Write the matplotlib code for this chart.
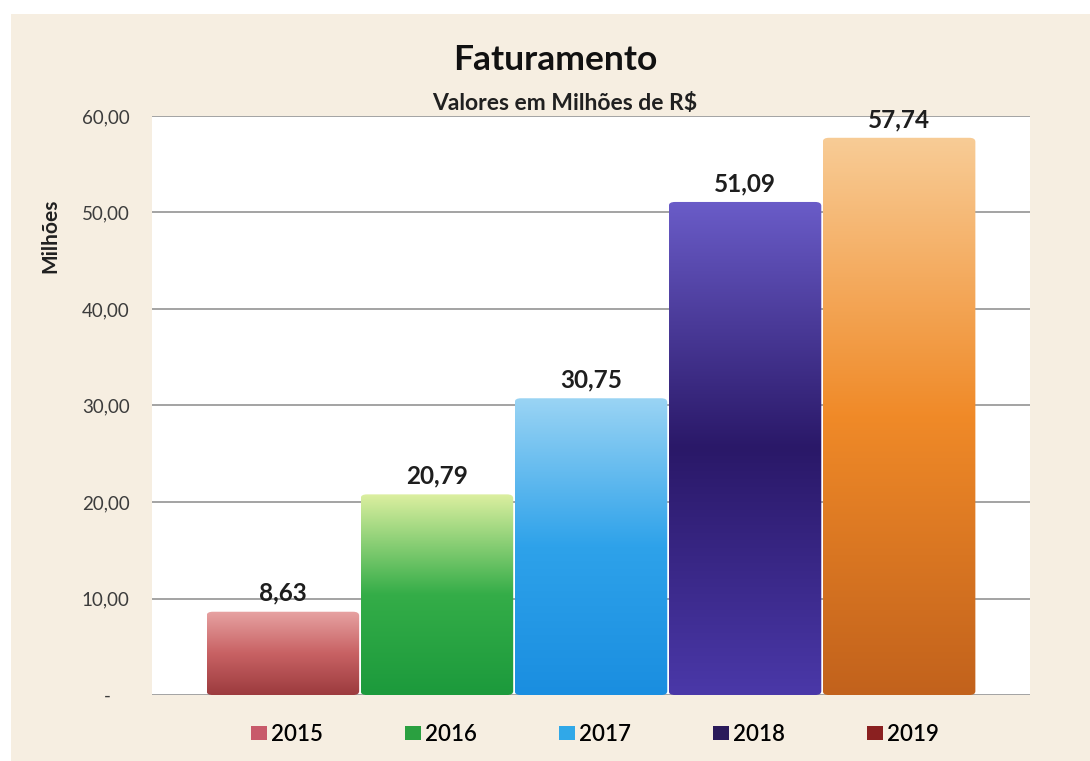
import matplotlib.pyplot as plt
import numpy as np
from matplotlib.colors import LinearSegmentedColormap
from matplotlib.patches import FancyBboxPatch, Patch, Rectangle

anos = ["2015", "2016", "2017", "2018", "2019"]
valores = [8.63, 20.79, 30.75, 51.09, 57.74]
rotulos = ["8,63", "20,79", "30,75", "51,09", "57,74"]
yticks = [0, 10, 20, 30, 40, 50, 60]
ytick_labels = ["-    ", "10,00", "20,00", "30,00", "40,00", "50,00", "60,00"]

# gradientes (base -> topo)
gradientes = [
    ["#9c3b3e", "#c86264", "#e7a3a3"],
    ["#1c9a3c", "#34ad48", "#dcefa0"],
    ["#1a8ee0", "#2ea2ea", "#9ad4f4"],
    ["#4a38a8", "#2a1868", "#6a5cc8"],
    ["#c2621c", "#f08a28", "#f8cc96"],
]
cores_legenda = ["#c85a6a", "#2aa040", "#30a8e8", "#2a1a5a", "#8a2020"]

fundo = "#f6eee1"
plt.rcParams['font.family'] = ['Lato', 'DejaVu Sans']

fig = plt.figure(figsize=(10.9, 7.61), dpi=100)
fig.patch.set_facecolor(fundo)
fig.patches.append(Rectangle((0, 0.982), 1, 0.018, transform=fig.transFigure,
                             facecolor="white", edgecolor="none", zorder=0))
fig.patches.append(Rectangle((0, 0), 0.01, 1, transform=fig.transFigure,
                             facecolor="white", edgecolor="none", zorder=0))

ax = fig.add_axes([0.1394, 0.0867, 0.8056, 0.7609])
ax.set_facecolor("white")
for s in ax.spines.values():
    s.set_visible(False)

ax.set_xlim(-0.85, 4.85)
ax.set_ylim(0, 60)
ax.set_yticks(yticks)
ax.set_yticklabels(ytick_labels, fontsize=13.5, color="#3c3c3c")
ax.set_xticks([])
ax.tick_params(axis="y", length=0, pad=16)
ax.yaxis.grid(True, color="#8a8a8a", linewidth=1.1)
ax.set_axisbelow(True)

w = 0.99
for i, (v, cores) in enumerate(zip(valores, gradientes)):
    cmap = LinearSegmentedColormap.from_list("g%d" % i, cores)
    grad = np.linspace(0, 1, 256).reshape(-1, 1)
    x0 = i - w / 2
    im = ax.imshow(grad, cmap=cmap, origin="lower", aspect="auto",
                   extent=(x0, x0 + w, 0, v), zorder=2)
    clip = FancyBboxPatch((x0, 0), w, v, boxstyle="round,pad=0,rounding_size=0.04",
                          mutation_aspect=10, transform=ax.transData,
                          facecolor="none", edgecolor="none")
    ax.add_patch(clip)
    im.set_clip_path(clip)
    ax.text(i, v + 1.9, rotulos[i], ha="center", va="center", fontsize=17.5,
            fontweight="bold", color="#1e1e1e", zorder=3)

ax.set_xlim(-0.85, 4.85)
ax.set_ylim(0, 60)

fig.text(0.509, 0.921, "Faturamento", ha="center", va="center", fontsize=25.5,
         fontweight="bold", color="#111111")
fig.text(0.518, 0.864, "Valores em Milhões de R$", ha="center", va="center",
         fontsize=16.5, fontweight="bold", color="#202020")
fig.text(0.046, 0.69, "Milhões", rotation=90, ha="center", va="center",
         fontsize=15, fontweight="bold", color="#202020")

handles = [Patch(facecolor=c, edgecolor="none") for c in cores_legenda]
fig.legend(handles, anos, loc="center", bbox_to_anchor=(0.546, 0.035), ncol=5,
           frameon=False, handlelength=0.7, handleheight=0.55,
           handletextpad=0.2, columnspacing=3.7,
           prop={"size": 16, "weight": "semibold"})

fig.savefig("out.png", dpi=100, facecolor=fig.get_facecolor())
